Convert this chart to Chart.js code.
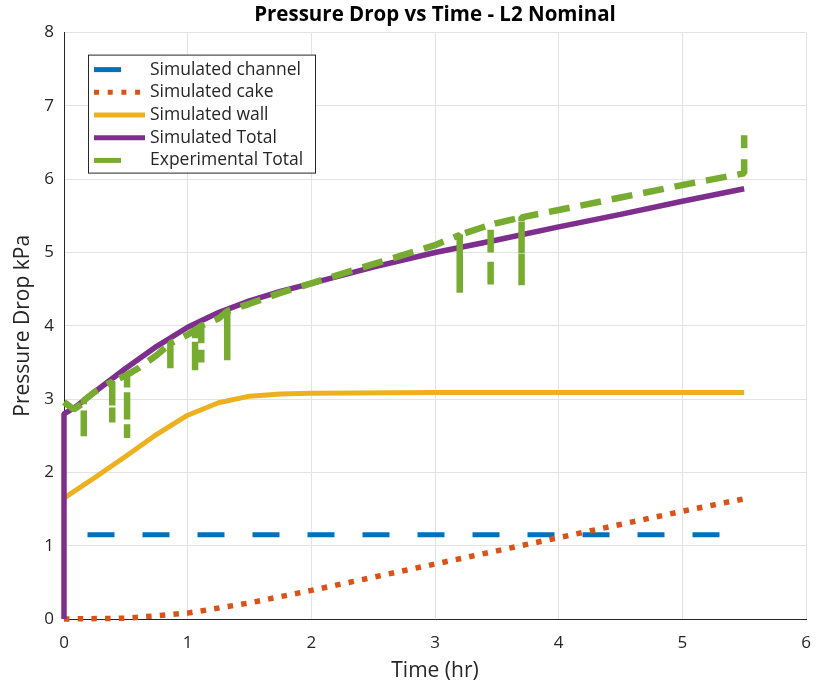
<!DOCTYPE html>
<html>
<head>
<meta charset="utf-8">
<script src="https://cdn.jsdelivr.net/npm/chart.js@4.4.1/dist/chart.umd.min.js"></script>
<style>
  html, body { margin: 0; padding: 0; background: #fff; }
  #wrap { width: 816px; height: 687px; }
</style>
</head>
<body>
<div id="wrap"><canvas id="pd"></canvas></div>
<script>
// series data (time in hr, pressure drop in kPa)
var channelTime = [0.19, 5.5];
var channelDrop = [1.15, 1.15];

var cakeTime = [0, 0.5, 1, 1.5, 2, 2.5, 3, 3.5, 4, 4.5, 5, 5.5];
var cakeDrop = [0, 0.01, 0.08, 0.22, 0.39, 0.57, 0.75, 0.93, 1.11, 1.29, 1.47, 1.64];

var wallTime = [0, 0.25, 0.5, 0.75, 1, 1.25, 1.5, 1.75, 2, 3, 4, 5, 5.5];
var wallDrop = [1.65, 1.93, 2.22, 2.52, 2.78, 2.95, 3.04, 3.07, 3.08, 3.09, 3.09, 3.09, 3.09];

var totalTime = [0, 0, 0.1, 0.25, 0.5, 0.75, 1, 1.25, 1.5, 1.75, 2, 2.5, 3, 3.5, 4, 4.5, 5, 5.5];
var totalDrop = [0, 2.8, 2.9, 3.1, 3.42, 3.72, 3.98, 4.18, 4.34, 4.47, 4.58, 4.8, 5.0, 5.17, 5.35, 5.52, 5.7, 5.87];

// experimental trace, with the short sensor drop-outs as vertical spikes
var expTime = [0, 0.08, 0.16, 0.16, 0.16, 0.25, 0.39, 0.39, 0.39, 0.51, 0.51, 0.51, 0.6, 0.75,
  0.86, 0.86, 0.86, 1.0, 1.06, 1.06, 1.06, 1.11, 1.11, 1.11, 1.25, 1.32, 1.32, 1.32, 1.5, 1.75, 2, 2.5, 3,
  3.2, 3.2, 3.2, 3.45, 3.45, 3.45, 3.7, 3.7, 3.7, 4, 4.5, 5, 5.5, 5.5];
var expDrop = [2.96, 2.86, 2.95, 2.45, 2.98, 3.1, 3.24, 2.68, 3.24, 3.33, 2.47, 3.33, 3.42, 3.6,
  3.76, 3.4, 3.76, 3.88, 3.94, 3.37, 3.94, 4.0, 3.5, 4.0, 4.1, 4.2, 3.53, 4.2, 4.3, 4.45, 4.58, 4.84, 5.1,
  5.24, 4.45, 5.24, 5.38, 4.5, 5.38, 5.48, 4.55, 5.48, 5.58, 5.75, 5.92, 6.08, 6.6];

var seriesNames = ['Simulated channel', 'Simulated cake', 'Simulated wall', 'Simulated Total', 'Experimental Total'];

var FONT = '"Open Sans", "Liberation Sans", sans-serif';
var TITLE_FONT = '"Liberation Sans Narrow", "Open Sans", sans-serif';

function pairs(xs, ys) {
  var out = [];
  for (var i = 0; i < xs.length; i++) {
    out.push({ x: xs[i], y: ys[i] });
  }
  return out;
}

function lineSet(label, data, color, width, dash, order) {
  return {
    label: label,
    data: data,
    borderColor: color,
    backgroundColor: color,
    borderWidth: width,
    borderDash: dash,
    borderCapStyle: 'butt',
    borderJoinStyle: 'bevel',
    pointRadius: 0,
    tension: 0,
    fill: false,
    clip: 8,
    order: order
  };
}

// legend box drawn inside the plot, top left
var boxLegend = {
  id: 'boxLegend',
  afterDraw: function (chart) {
    var ctx = chart.ctx;
    var area = chart.chartArea;
    var left = area.left + 24, top = area.top + 22;
    var w = 227, h = 118, rowH = 22.7;
    ctx.save();
    ctx.fillStyle = '#fff';
    ctx.fillRect(left, top, w, h);
    ctx.strokeStyle = '#262626';
    ctx.lineWidth = 1;
    ctx.strokeRect(left + 0.5, top + 0.5, w, h);
    var lens = [27, 50, 51, 51, 27];
    chart.data.datasets.forEach(function (ds, i) {
      var y = top + 15 + i * rowH;
      ctx.beginPath();
      ctx.strokeStyle = ds.borderColor;
      ctx.lineWidth = 5;
      ctx.lineCap = 'butt';
      ctx.setLineDash(i === 1 ? [5, 8.7] : []);
      ctx.moveTo(left + 6, y);
      ctx.lineTo(left + 6 + lens[i], y);
      ctx.stroke();
      ctx.setLineDash([]);
      ctx.fillStyle = '#262626';
      ctx.font = '17.5px ' + FONT;
      ctx.textBaseline = 'middle';
      ctx.fillText(ds.label, left + 62, y);
    });
    ctx.restore();
  }
};

var chart = new Chart(document.getElementById('pd'), {
  type: 'line',
  data: {
    datasets: [
      lineSet(seriesNames[0], pairs(channelTime, channelDrop), '#0072BD', 5, [27, 28], 5),
      lineSet(seriesNames[1], pairs(cakeTime, cakeDrop), '#D95319', 5.5, [5.5, 8.2], 4),
      lineSet(seriesNames[2], pairs(wallTime, wallDrop), '#EDB120', 5, [], 3),
      lineSet(seriesNames[3], pairs(totalTime, totalDrop), '#7E2F8E', 5.5, [], 2),
      lineSet(seriesNames[4], pairs(expTime, expDrop), '#77AC30', 6.5, [21, 11], 1)
    ]
  },
  options: {
    responsive: true,
    maintainAspectRatio: false,
    animation: false,
    layout: { padding: { left: 0, right: 10, top: 0, bottom: 0 } },
    plugins: {
      legend: { display: false },
      tooltip: { enabled: false },
      title: {
        display: true,
        fullSize: false,
        text: 'Pressure Drop vs Time - L2 Nominal',
        color: '#000',
        font: { family: TITLE_FONT, size: 20.5, weight: 'bold' },
        padding: { top: 3, bottom: 5 }
      }
    },
    scales: {
      x: {
        type: 'linear',
        min: 0,
        max: 6,
        afterFit: function (scale) {
          scale.height = 68;
          scale.paddingLeft = 0;
          scale.paddingRight = 0;
        },
        ticks: { stepSize: 1, color: '#262626', font: { family: FONT, size: 17 }, padding: 14 },
        grid: { color: '#e3e3e3', drawTicks: false },
        border: { color: '#262626', width: 1 },
        title: { display: true, text: 'Time (hr)', color: '#262626', font: { family: FONT, size: 21 }, padding: { top: 3, bottom: 3 } }
      },
      y: {
        min: 0,
        max: 8,
        afterFit: function (scale) { scale.width = 64; },
        ticks: { stepSize: 1, color: '#262626', font: { family: FONT, size: 17 }, padding: 10 },
        grid: { color: '#e3e3e3', drawTicks: false },
        border: { color: '#262626', width: 1 },
        title: { display: true, text: 'Pressure Drop kPa', color: '#262626', font: { family: FONT, size: 21 }, padding: { top: 10, bottom: 10 } }
      }
    }
  },
  plugins: [boxLegend]
});
</script>
</body>
</html>
